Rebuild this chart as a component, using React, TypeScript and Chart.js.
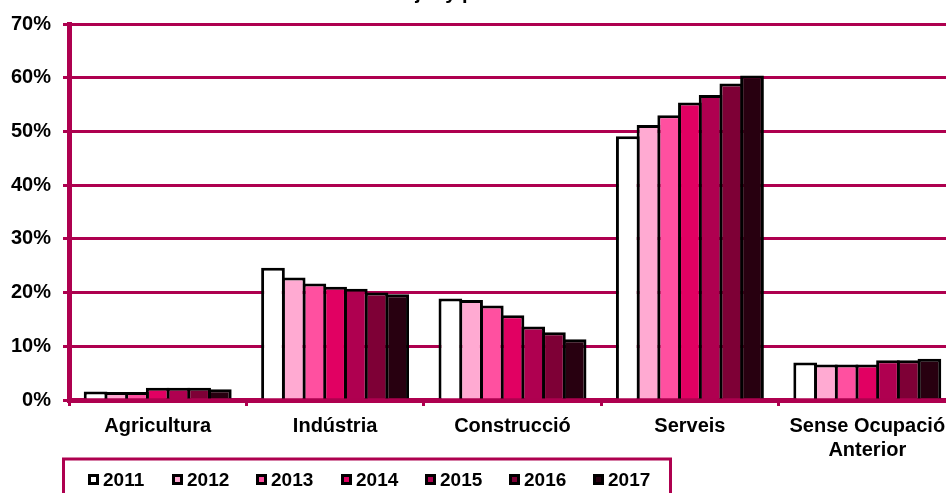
import React, { useEffect, useRef } from 'react';
import { Chart, registerables } from 'chart.js';

Chart.register(...registerables);

const TITLE = 'Atur mes de juny per sectors 2011-2017';
const categories: (string | string[])[] = ['Agricultura', 'Indústria', 'Construcció', 'Serveis', ['Sense Ocupació', 'Anterior']];
const years = ['2011', '2012', '2013', '2014', '2015', '2016', '2017'];
const v2011 = [1.6, 24.6, 18.9, 49.1, 7.0];
const v2012 = [1.5, 22.8, 18.6, 51.2, 6.6];
const v2013 = [1.5, 21.7, 17.6, 53.0, 6.6];
const v2014 = [2.3, 21.1, 15.8, 55.4, 6.6];
const v2015 = [2.3, 20.7, 13.7, 56.8, 7.4];
const v2016 = [2.3, 20.0, 12.6, 58.9, 7.4];
const v2017 = [2.0, 19.7, 11.3, 60.4, 7.7];
const yTickLabels = ['0%', '10%', '20%', '30%', '40%', '50%', '60%', '70%'];

const seriesValues = [v2011, v2012, v2013, v2014, v2015, v2016, v2017];
const seriesColors = ['#FFFFFF', '#FFAAD2', '#FF50A0', '#E10062', '#AF0050', '#7E0036', '#280010'];
const AXIS = '#AE004F';
const FONT = '"Liberation Sans", Arial, sans-serif';

const decorPlugin = {
  id: 'decor',
  afterDraw(chart: any) {
    const ctx = chart.ctx as CanvasRenderingContext2D;
    ctx.save();
    ctx.font = `bold 20px ${FONT}`;
    ctx.fillStyle = '#000';
    ctx.textAlign = 'center';
    ctx.textBaseline = 'alphabetic';
    ctx.fillText(TITLE, 482, -1);

    ctx.strokeStyle = AXIS;
    ctx.lineWidth = 3;
    ctx.strokeRect(63.5, 459, 607, 60);

    ctx.font = `bold 19px ${FONT}`;
    ctx.textAlign = 'left';
    chart.data.datasets.forEach((ds: any, i: number) => {
      const x = Math.round(88 + i * 84.2);
      const y = 474;
      ctx.fillStyle = '#000';
      ctx.fillRect(x, y, 11, 11);
      ctx.fillStyle = ds.backgroundColor;
      ctx.fillRect(x + 3, y + 3, 5, 5);
      ctx.fillStyle = '#000';
      ctx.fillText(ds.label, x + 15, 486);
    });
    ctx.restore();
  },
};

export default function App() {
  const ref = useRef<HTMLCanvasElement | null>(null);

  useEffect(() => {
    if (!ref.current) return;
    const chart = new Chart(ref.current, {
      type: 'bar',
      data: {
        labels: categories,
        datasets: years.map((y, i) => ({
          label: y,
          data: seriesValues[i],
          backgroundColor: seriesColors[i],
          borderColor: '#000',
          borderWidth: 3,
          borderSkipped: 'start',
          categoryPercentage: 0.817,
          barPercentage: 1.145,
        })),
      },
      options: {
        responsive: false,
        animation: false,
        events: [],
        layout: { padding: { top: 22, right: 4, bottom: 28, left: 0 } },
        plugins: {
          legend: { display: false },
          title: { display: false },
          tooltip: { enabled: false },
        },
        scales: {
          x: {
            z: 1,
            grid: {
              offset: true,
              drawOnChartArea: false,
              drawTicks: true,
              tickLength: 6,
              color: AXIS,
              lineWidth: 3,
            },
            border: { display: true, color: AXIS, width: 5 },
            ticks: {
              color: '#000',
              font: { family: FONT, size: 20, weight: 'bold', lineHeight: 1.2 },
              padding: 8,
              maxRotation: 0,
              autoSkip: false,
            },
            afterFit: (s: any) => {
              s.height = 65;
            },
          },
          y: {
            min: 0,
            max: 70,
            ticks: {
              stepSize: 10,
              color: '#000',
              font: { family: FONT, size: 20, weight: 'bold' },
              padding: 12,
              callback: (_v: any, idx: number) => yTickLabels[idx],
            },
            grid: { color: AXIS, lineWidth: 3, tickLength: 6, drawTicks: true },
            border: { color: AXIS, width: 5 },
            afterFit: (s: any) => {
              s.width = 69;
            },
          },
        },
      },
      plugins: [decorPlugin],
    } as any);
    return () => chart.destroy();
  }, []);

  return (
    <div
      style={{
        position: 'fixed',
        left: 0,
        top: 0,
        width: 946,
        height: 493,
        overflow: 'hidden',
        background: '#fff',
      }}
    >
      <canvas ref={ref} width={960} height={493} style={{ display: 'block', width: 960, height: 493 }} />
    </div>
  );
}
